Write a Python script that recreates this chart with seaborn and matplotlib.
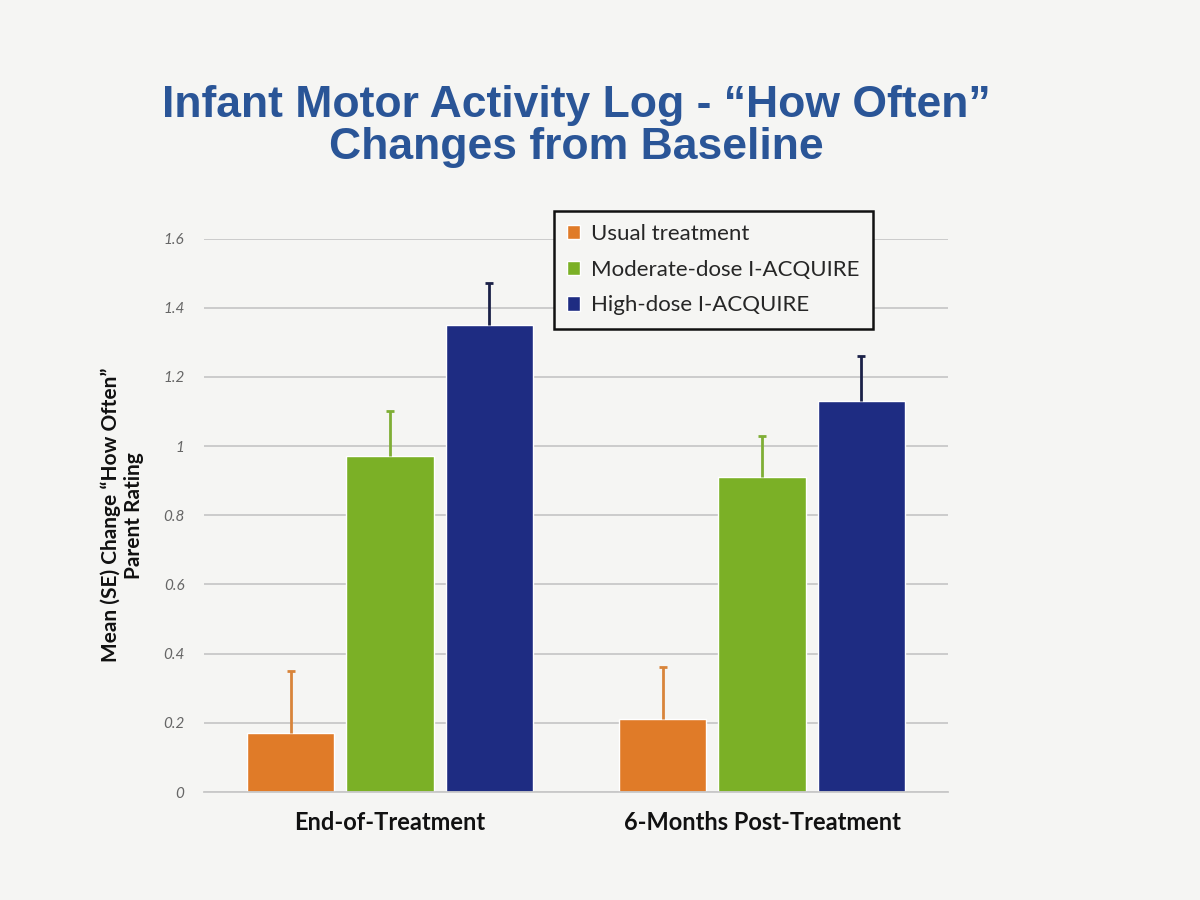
import pandas as pd
import matplotlib.pyplot as plt
import seaborn as sns
from matplotlib.ticker import FuncFormatter

timepoints = ['End-of-Treatment', '6-Months Post-Treatment']
groups = ['Usual treatment', 'Moderate-dose I-ACQUIRE', 'High-dose I-ACQUIRE']
usual_mean = [0.17, 0.21]
usual_se = [0.18, 0.15]
moderate_mean = [0.97, 0.91]
moderate_se = [0.13, 0.12]
high_mean = [1.35, 1.13]
high_se = [0.12, 0.13]
y_ticks = [0, 0.2, 0.4, 0.6, 0.8, 1.0, 1.2, 1.4, 1.6]

bar_colors = ['#E07B28', '#7BB026', '#1E2C82']
err_colors = ['#D8843A', '#7FAE35', '#1B2148']

means = [usual_mean, moderate_mean, high_mean]
ses = [usual_se, moderate_se, high_se]
rows = []
for g, m_list, s_list in zip(groups, means, ses):
    for t, m, s in zip(timepoints, m_list, s_list):
        rows.append({'timepoint': t, 'group': g, 'mean': m, 'se': s})
df = pd.DataFrame(rows)

sns.set_theme(style='white')
plt.rcParams['font.family'] = ['Lato', 'DejaVu Sans']

fig = plt.figure(figsize=(12, 9), dpi=100, facecolor='#F5F5F3')
ax = fig.add_axes([0.17, 0.12, 0.62, 0.615])
ax.set_facecolor('#F5F5F3')

sns.barplot(data=df, x='timepoint', y='mean', hue='group', order=timepoints,
            hue_order=groups, palette=bar_colors, errorbar=None,
            width=0.8, gap=0.12, saturation=1, ax=ax)

# Barras de erro apenas para cima (sem a tampa de baixo)
for container, g, ec in zip(ax.containers, groups, err_colors):
    sub = df[df['group'] == g].set_index('timepoint').loc[timepoints]
    xs = [p.get_x() + p.get_width() / 2 for p in container.patches]
    hs = [p.get_height() for p in container.patches]
    eb = ax.errorbar(xs, hs, yerr=[[0] * len(xs), sub['se'].tolist()], fmt='none',
                     ecolor=ec, elinewidth=2, capsize=3, capthick=2, zorder=3)
    eb[1][0].set_visible(False)

ax.set_ylim(0, 1.6)
ax.set_xlim(-0.5, 1.5)
ax.set_yticks(y_ticks)
ax.yaxis.set_major_formatter(FuncFormatter(lambda v, p: f'{v:g}'))
ax.yaxis.grid(True, color='#C8C8C8', linewidth=1.3)
ax.set_axisbelow(True)
for side in ['left', 'right', 'top']:
    ax.spines[side].set_visible(False)
ax.spines['bottom'].set_color('#C8C8C8')
ax.spines['bottom'].set_linewidth(1.3)
ax.tick_params(axis='y', length=0, pad=14, labelsize=11, labelcolor='#666666')
ax.tick_params(axis='x', length=0, pad=14)
for lab in ax.get_yticklabels():
    lab.set_fontstyle('italic')
for lab in ax.get_xticklabels():
    lab.set_fontsize(17)
    lab.set_fontweight('bold')
    lab.set_color('#111111')

ax.set_xlabel('')
ax.set_ylabel('Mean (SE) Change \u201cHow Often\u201d\nParent Rating',
              fontsize=15, fontweight='bold', color='#111111', labelpad=14)

handles, labels = ax.get_legend_handles_labels()
leg = ax.legend(handles, labels, loc='upper left', bbox_to_anchor=(0.455, 1.07),
                frameon=True, fancybox=False, edgecolor='#111111',
                facecolor='#F5F5F3', fontsize=16, handlelength=0.6,
                handleheight=0.6, handletextpad=0.5, labelspacing=0.7,
                borderpad=0.6, framealpha=1)
leg.get_frame().set_linewidth(1.8)

fig.text(0.48, 0.905, 'Infant Motor Activity Log - \u201cHow Often\u201d\nChanges from Baseline',
         ha='center', va='top', fontsize=32, fontweight='bold', color='#2A5597',
         family=['Liberation Sans', 'DejaVu Sans'], linespacing=1.0)

plt.savefig('out.png', dpi=100, facecolor=fig.get_facecolor())
